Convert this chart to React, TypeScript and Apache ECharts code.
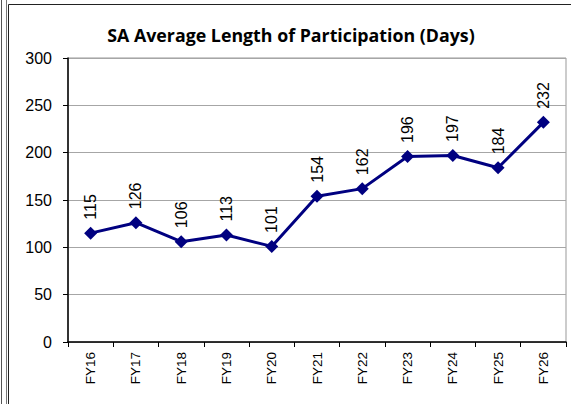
import React, { useEffect, useRef } from "react";
import * as echarts from "echarts";

const categories = ["FY16", "FY17", "FY18", "FY19", "FY20", "FY21", "FY22", "FY23", "FY24", "FY25", "FY26"];
const avgDays = [115, 126, 106, 113, 101, 154, 162, 196, 197, 184, 232];
const titleText = "SA Average Length of Participation (Days)";

export default function App() {
  const ref = useRef<HTMLDivElement>(null);
  useEffect(() => {
    const chart = echarts.init(ref.current!, null, { renderer: "svg" });
    chart.setOption({
      animation: false,
      backgroundColor: "#ffffff",
      title: {
        text: titleText,
        left: 286,
        textAlign: "center",
        top: 21,
        textStyle: { fontFamily: "Open Sans", fontWeight: "bold", fontSize: 17.8, color: "#000" },
      },
      graphic: [
        { type: "line", shape: { x1: 1.5, y1: 0, x2: 1.5, y2: 404 }, style: { stroke: "#555", lineWidth: 1 } },
        { type: "line", shape: { x1: 6.5, y1: 0, x2: 6.5, y2: 404 }, style: { stroke: "#777", lineWidth: 1 } },
        { type: "line", shape: { x1: 8.5, y1: 4.5, x2: 8.5, y2: 404 }, style: { stroke: "#222", lineWidth: 1 } },
        { type: "line", shape: { x1: 8.5, y1: 4.5, x2: 571, y2: 4.5 }, style: { stroke: "#222", lineWidth: 1 } },
      ],
      grid: { left: 68, right: 5, top: 58, bottom: 62, show: true, borderColor: "#999", borderWidth: 1 },
      xAxis: {
        type: "category",
        data: categories,
        boundaryGap: true,
        axisLine: { lineStyle: { color: "#000", width: 1.5 } },
        axisTick: { show: true, length: 5, inside: false, lineStyle: { color: "#000" } },
        axisLabel: { rotate: 90, margin: 10, fontFamily: "Liberation Sans", fontSize: 13.5, color: "#000" },
      },
      yAxis: {
        type: "value",
        min: 0,
        max: 300,
        interval: 50,
        axisLine: { show: true, lineStyle: { color: "#000", width: 1.5 } },
        axisTick: { show: true, length: 5, lineStyle: { color: "#000" } },
        splitLine: { lineStyle: { color: "#a6a6a6", width: 1 } },
        axisLabel: { margin: 16, fontFamily: "Liberation Sans", fontSize: 16, color: "#000" },
      },
      series: [
        {
          type: "line",
          data: avgDays,
          symbol: "diamond",
          symbolSize: 13,
          lineStyle: { color: "#000080", width: 3 },
          itemStyle: { color: "#000080" },
          label: {
            show: true,
            position: "top",
            rotate: 90,
            align: "left",
            verticalAlign: "middle",
            distance: 7,
            fontFamily: "Liberation Sans",
            fontSize: 16,
            color: "#000",
          },
        },
      ],
    });
    return () => chart.dispose();
  }, []);
  return <div ref={ref} style={{ position: "fixed", left: 0, top: 0, width: 571, height: 404 }} />;
}
